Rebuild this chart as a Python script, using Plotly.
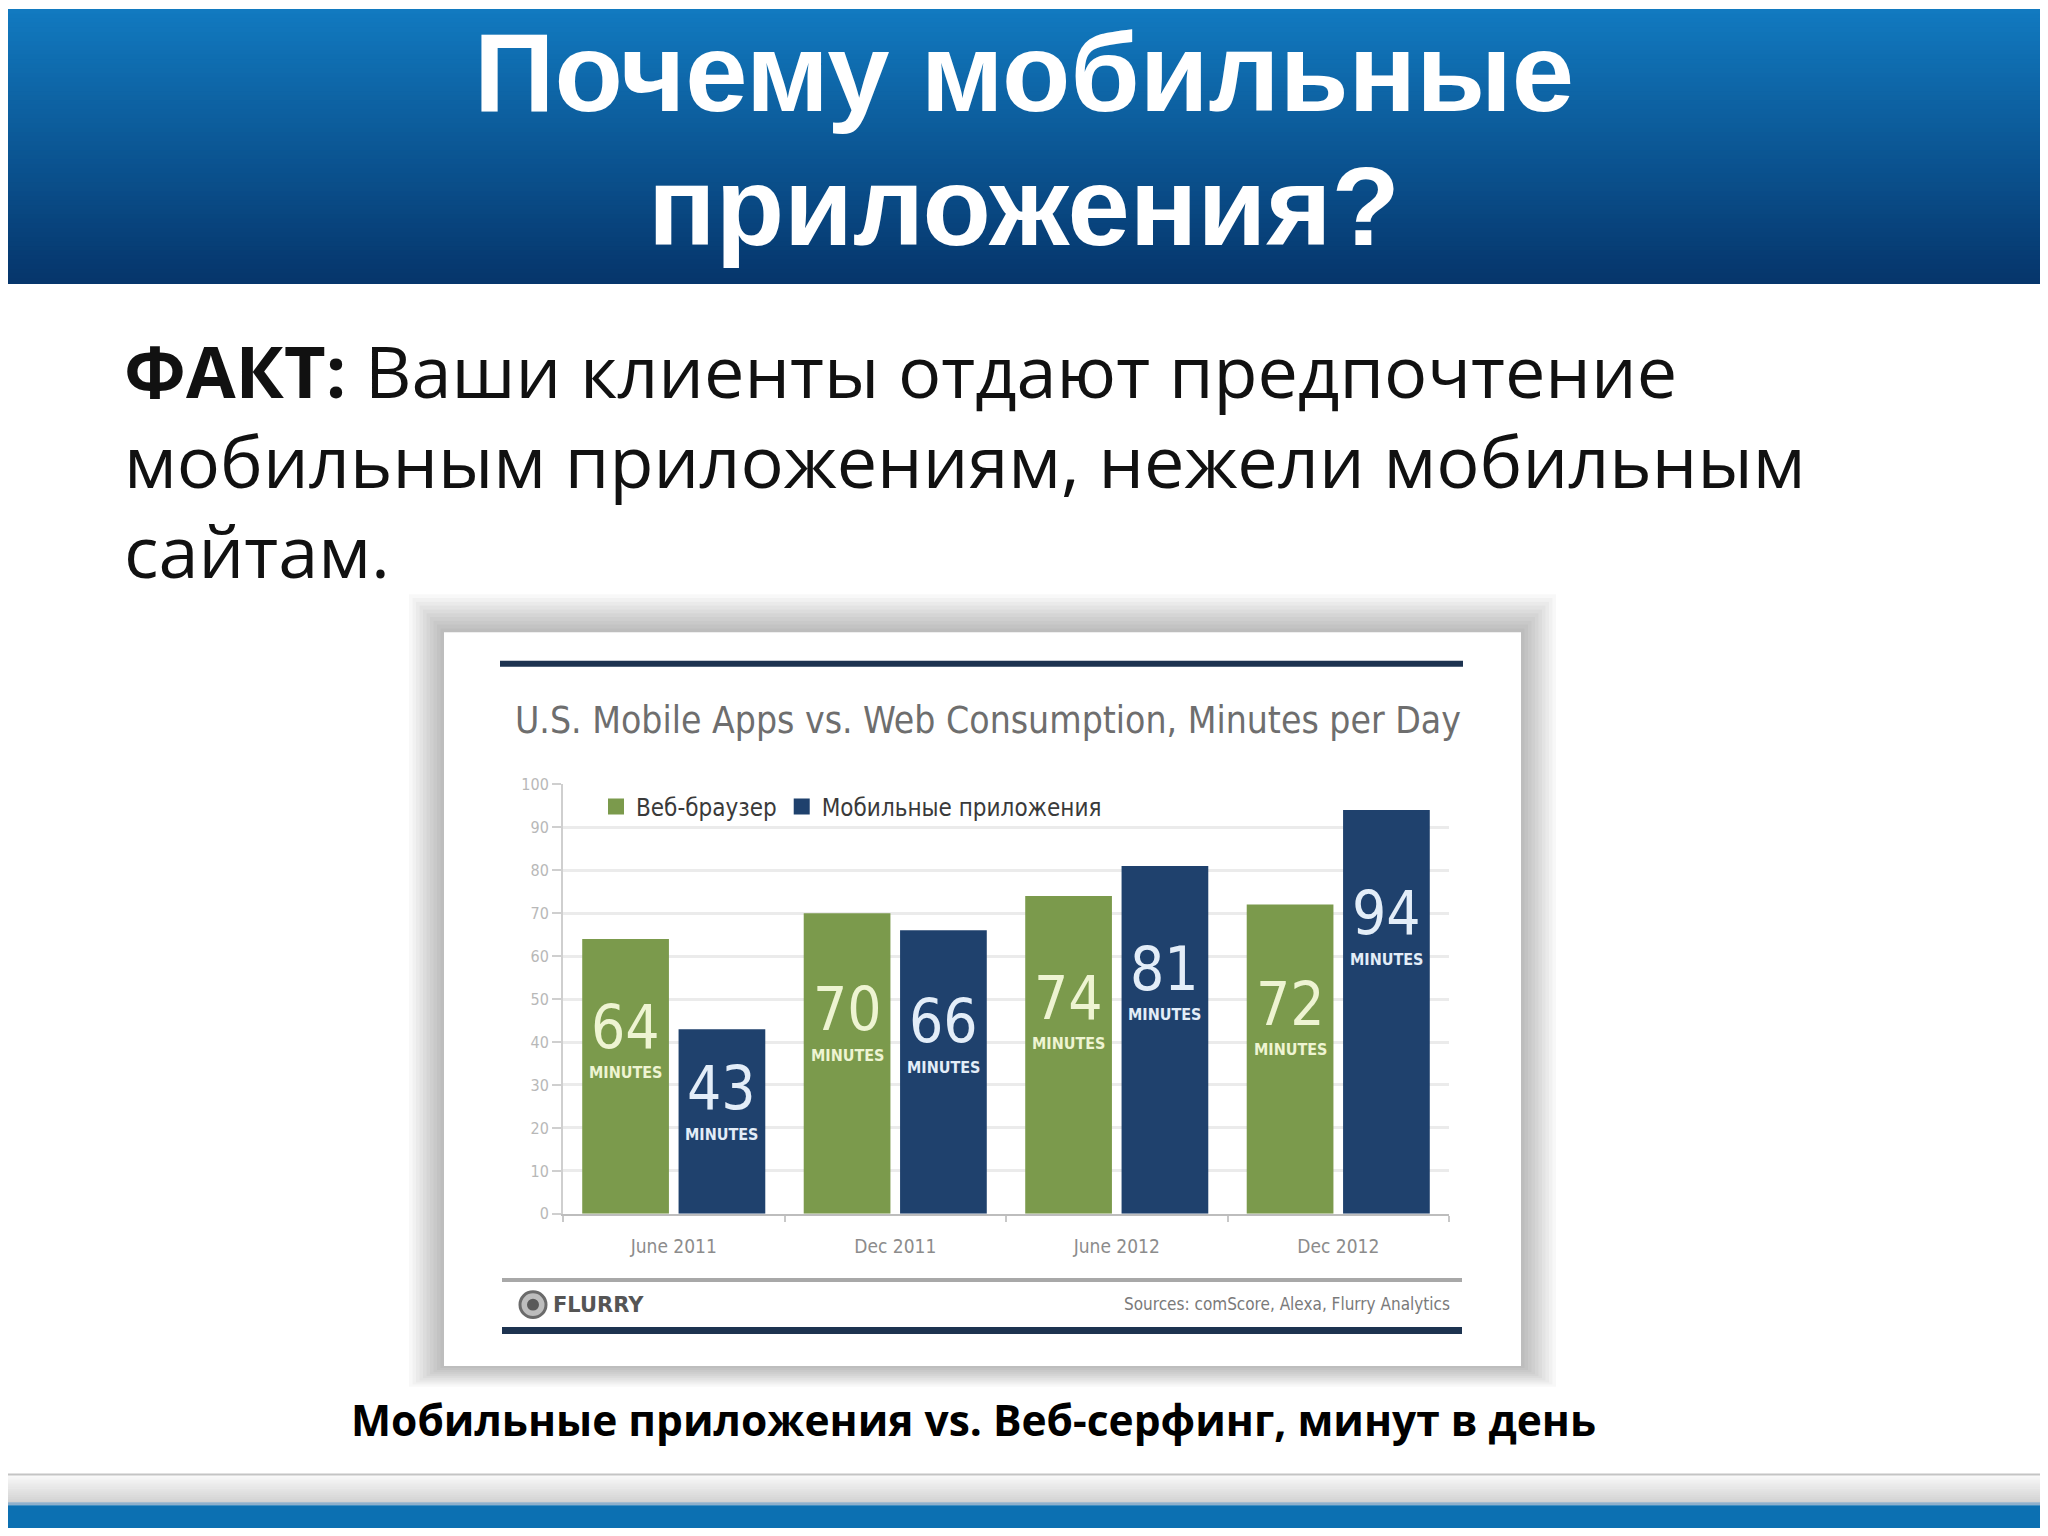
import plotly.graph_objects as go

# ---------------- data ----------------
categories = ["June 2011", "Dec 2011", "June 2012", "Dec 2012"]
web_minutes = [64, 70, 74, 72]
app_minutes = [43, 66, 81, 94]
series_names = ["Веб-браузер", "Мобильные приложения"]
y_ticks = [0, 10, 20, 30, 40, 50, 60, 70, 80, 90, 100]

slide_title = ["Почему мобильные", "приложения?"]
body_lines = ["<b>ФАКТ:</b> Ваши клиенты отдают предпочтение",
              "мобильным приложениям, нежели мобильным",
              "сайтам."]
chart_title = "U.S. Mobile Apps vs. Web Consumption, Minutes per Day"
caption = "<b>Мобильные приложения vs. Веб-серфинг, минут в день</b>"
sources = "Sources: comScore, Alexa, Flurry Analytics"

# ---------------- helpers ----------------
# page is 2048x1536; the browser keeps an 8px body margin, so the figure is 16px smaller
PAGE_W, PAGE_H = 2048, 1536
OFF = 8
FW, FH = PAGE_W - 2 * OFF, PAGE_H - 2 * OFF
def px(x):
    return (x - OFF) / FW
def py(y):
    return 1 - (y - OFF) / FH

GREEN = "#7b9a4c"
BLUE = "#1f416d"
NARROW = "Liberation Sans Narrow, DejaVu Sans Condensed, Arial Narrow, sans-serif"

BARGAP = 0.13
BARGROUPGAP = 0.1
half = (1 - BARGAP) / 4
x_idx = list(range(len(categories)))

fig = go.Figure()
fig.add_bar(x=x_idx, y=web_minutes, name=series_names[0], showlegend=False,
            marker=dict(color=GREEN, line=dict(width=0)), hoverinfo="skip")
fig.add_bar(x=x_idx, y=app_minutes, name=series_names[1], showlegend=False,
            marker=dict(color=BLUE, line=dict(width=0)), hoverinfo="skip")
# legend entries with larger square swatches
for nm, colr in ((series_names[0], GREEN), (series_names[1], BLUE)):
    fig.add_scatter(x=[None], y=[None], mode="markers", name=nm,
                    marker=dict(symbol="square", size=16, color=colr, line=dict(width=0)))

shapes = []
# header gradient
top_c = (18, 122, 192)
bot_c = (6, 54, 108)
N = 60
hh = 277
for i in range(N):
    t = i / (N - 1)
    c = tuple(int(top_c[k] + (bot_c[k] - top_c[k]) * t) for k in range(3))
    shapes.append(dict(type="rect", xref="paper", yref="paper",
                       x0=-0.01, x1=1.01, y0=py(hh * (i + 1) / N + 1.5), y1=py(hh * i / N),
                       fillcolor="rgb(%d,%d,%d)" % c, line=dict(width=0), layer="below"))

# card shadow
cx0, cx1, cy0, cy1 = 444, 1521, 631, 1374
for k in range(10, 0, -1):
    e = k * 3.5
    shapes.append(dict(type="rect", xref="paper", yref="paper",
                       x0=px(cx0 - e), x1=px(cx1 + e), y0=py(cy1 + e * 0.6), y1=py(cy0 - e * 1.1),
                       fillcolor="rgba(0,0,0,0.028)", line=dict(width=0), layer="below"))
shapes.append(dict(type="rect", xref="paper", yref="paper",
                   x0=px(cx0), x1=px(cx1), y0=py(cy1), y1=py(cy0),
                   fillcolor="white", line=dict(width=0), layer="below"))

# chart decoration lines
shapes.append(dict(type="line", xref="paper", yref="paper", x0=px(500), x1=px(1463),
                   y0=py(663), y1=py(663), line=dict(color="#1d3350", width=6), layer="below"))
shapes.append(dict(type="line", xref="paper", yref="paper", x0=px(502), x1=px(1462),
                   y0=py(1287), y1=py(1287), line=dict(color="#a8a8a8", width=4), layer="below"))
shapes.append(dict(type="line", xref="paper", yref="paper", x0=px(502), x1=px(1462),
                   y0=py(1338), y1=py(1338), line=dict(color="#1d3350", width=7), layer="below"))
# flurry logo circle
shapes.append(dict(type="circle", xref="paper", yref="paper", x0=px(520), x1=px(546),
                   y0=py(1325), y1=py(1299), fillcolor="#bdbdbd",
                   line=dict(color="#6a6a6a", width=3), layer="below"))
shapes.append(dict(type="circle", xref="paper", yref="paper", x0=px(527), x1=px(539),
                   y0=py(1318), y1=py(1306), fillcolor="#5a5a5a",
                   line=dict(width=0), layer="below"))

# bottom band
band_top, band_bot = 1484, 1512
NB = 14
for i in range(NB):
    t = i / (NB - 1)
    g = int(250 - 40 * t)
    shapes.append(dict(type="rect", xref="paper", yref="paper", x0=-0.01, x1=1.01,
                       y0=py(band_top + (band_bot - band_top) * (i + 1) / NB + 0.5),
                       y1=py(band_top + (band_bot - band_top) * i / NB),
                       fillcolor="rgb(%d,%d,%d)" % (g, g, g), line=dict(width=0), layer="below"))
shapes.append(dict(type="line", xref="paper", yref="paper", x0=-0.01, x1=1.01,
                   y0=py(1484), y1=py(1484), line=dict(color="#c4c4c4", width=2), layer="below"))
shapes.append(dict(type="rect", xref="paper", yref="paper", x0=-0.01, x1=1.01,
                   y0=py(1512), y1=py(1515), fillcolor="#8fb0cc", line=dict(width=0), layer="below"))
shapes.append(dict(type="rect", xref="paper", yref="paper", x0=-0.01, x1=1.01,
                   y0=-0.01, y1=py(1515), fillcolor="#0c70b2", line=dict(width=0), layer="below"))

annotations = []
# slide title
for i, line in enumerate(slide_title):
    annotations.append(dict(text="<b>%s</b>" % line, x=px(1024), y=py(64 + i * 136),
                            xref="paper", yref="paper", showarrow=False,
                            xanchor="center", yanchor="middle",
                            font=dict(family="Liberation Sans, Arial, sans-serif", size=112, color="white")))
# body text
for i, line in enumerate(body_lines):
    annotations.append(dict(text=line, x=px(122), y=py(365 + i * 91.5),
                            xref="paper", yref="paper", showarrow=False,
                            xanchor="left", yanchor="middle",
                            font=dict(family="Open Sans, sans-serif", size=72, color="#111111")))
# chart title
annotations.append(dict(text=chart_title, x=px(513), y=py(720), xref="paper", yref="paper",
                        showarrow=False, xanchor="left", yanchor="middle",
                        font=dict(family=NARROW, size=37, color="#6e6e6e")))
# flurry logo text & sources
annotations.append(dict(text="<b>FLURRY</b>", x=px(551), y=py(1312), xref="paper", yref="paper",
                        showarrow=False, xanchor="left", yanchor="middle",
                        font=dict(family="DejaVu Sans, sans-serif", size=21, color="#555555")))
annotations.append(dict(text=sources, x=px(1452), y=py(1311), xref="paper", yref="paper",
                        showarrow=False, xanchor="right", yanchor="middle",
                        font=dict(family=NARROW, size=17, color="#7a7a7a")))
# caption
annotations.append(dict(text=caption, x=px(973), y=py(1428), xref="paper", yref="paper",
                        showarrow=False, xanchor="center", yanchor="middle",
                        font=dict(family="Open Sans, sans-serif", size=42.5, color="#000000")))

# bar value labels
def label_y(v):
    return max(0.68 * v, v - 24)

for vals, sign, col in ((web_minutes, -1, "#eef4d2"), (app_minutes, 1, "#e3edf8")):
    for i, v in enumerate(vals):
        xx = x_idx[i] + sign * half
        annotations.append(dict(text=str(v), x=xx, y=label_y(v), xref="x", yref="y",
                                showarrow=False, xanchor="center", yanchor="middle",
                                font=dict(family=NARROW, size=60, color=col)))
        annotations.append(dict(text="<b>MINUTES</b>", x=xx, y=label_y(v), xref="x", yref="y",
                                yshift=-46, showarrow=False, xanchor="center", yanchor="middle",
                                font=dict(family=NARROW, size=16, color=col)))

fig.update_layout(
    width=FW, height=FH,
    margin=dict(l=0, r=0, t=0, b=0),
    paper_bgcolor="white", plot_bgcolor="rgba(0,0,0,0)",
    barmode="group", bargap=BARGAP, bargroupgap=BARGROUPGAP,
    shapes=shapes, annotations=annotations,
    showlegend=True,
    legend=dict(orientation="h", x=px(596), y=py(808), xanchor="left", yanchor="middle",
                bgcolor="rgba(0,0,0,0)", font=dict(family=NARROW, size=24, color="#3a3a3a"),
                itemclick=False, itemdoubleclick=False, tracegroupgap=0, itemsizing="trace"),
    xaxis=dict(domain=[px(563), px(1449)], range=[-0.5, 3.5],
               tickmode="array", tickvals=x_idx, ticktext=categories,
               ticks="", showgrid=False, zeroline=False,
               showline=True, linecolor="#bdbdbd", linewidth=2,
               tickfont=dict(family=NARROW, size=19, color="#8c8c8c"),
               ticklabelstandoff=14,
               minor=dict(tickmode="array", tickvals=[i + 0.5 for i in range(-1, 4)],
                          ticks="outside", ticklen=6, tickcolor="#c8c8c8", tickwidth=2, showgrid=False)),
    yaxis=dict(domain=[py(1220), py(785)], range=[0, 100],
               tickmode="array", tickvals=y_ticks,
               showgrid=True, gridcolor="#ebebeb", gridwidth=3, zeroline=False,
               showline=True, linecolor="#cfcfcf", linewidth=2,
               ticks="outside", ticklen=9, tickcolor="#cfcfcf", tickwidth=2,
               tickfont=dict(family=NARROW, size=16, color="#b8b8b8")),
)

fig.write_html("out.html", config={"displayModeBar": False})
